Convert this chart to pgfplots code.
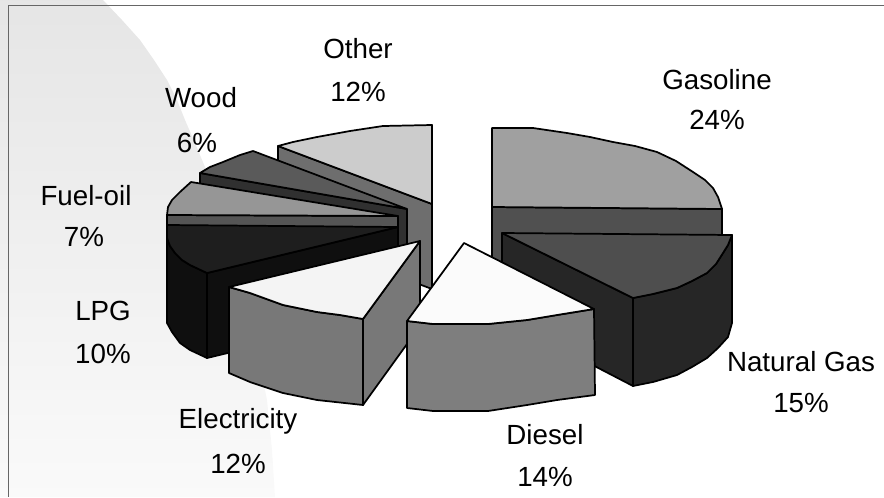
\documentclass[border=0pt]{standalone}
\usepackage{pgfplots}
\pgfplotsset{compat=1.18}
\usepackage{fontspec}
\setmainfont{Liberation Sans}

\definecolor{bgtop}{gray}{0.90}
\definecolor{bgbot}{gray}{0.98}
\definecolor{otherside}{RGB}{110,110,110}
\definecolor{othertop}{RGB}{204,204,204}
\definecolor{woodside}{RGB}{48,48,48}
\definecolor{woodtop}{RGB}{90,90,90}
\definecolor{fuelside}{RGB}{85,85,85}
\definecolor{fueltop}{RGB}{150,150,150}
\definecolor{lpgside}{RGB}{15,15,15}
\definecolor{lpgtop}{RGB}{30,30,30}
\definecolor{elecside}{RGB}{120,120,120}
\definecolor{electop}{RGB}{244,244,244}
\definecolor{gasside}{RGB}{80,80,80}
\definecolor{gastop}{RGB}{160,160,160}
\definecolor{ngside}{RGB}{38,38,38}
\definecolor{ngtop}{RGB}{78,78,78}
\definecolor{dieselside}{RGB}{126,126,126}
\definecolor{dieseltop}{RGB}{251,251,251}

% one slice face: closed polygon in pixel coordinates of the picture
\tikzset{
  face/.style={draw=black,line width=1.3pt,line join=round,fill=#1},
  lab/.style={anchor=base,font=\fontsize{20.8}{24}\selectfont,text=black},
}

\begin{document}
\begin{tikzpicture}
\begin{axis}[
  scale only axis,width=663pt,height=372.75pt,
  xmin=0,xmax=884,ymin=0,ymax=497,y dir=reverse,
  hide axis,clip=true,
]
% background swoosh
\addplot[draw=none,top color=bgtop,bottom color=bgbot] coordinates {
  (0,0) (103,0) (122,20) (140,40) (154,60) (167,80) (177,100) (185,120) (195,143) (205,167)
  (218,200) (230,235) (241,275) (250,320) (259,360) (267,400) (272,450) (275,497) (0,497)} --cycle;
% frame
\addplot[color=black!60,line width=1.1pt] coordinates {(884,5.5) (8.5,5.5) (8.5,497)};

% Other
\addplot[face=otherside] coordinates {(278,146) (432,204) (432,289) (278,231)} --cycle;
\addplot[face=othertop] coordinates {(432,204) (432,125) (383,126) (350,131) (317,137) (293,142) (278,146)} --cycle;
% Wood
\addplot[face=woodside] coordinates {(200,173) (407,209) (407,294) (200,258)} --cycle;
\addplot[face=woodtop] coordinates {(407,209) (253,151) (240,155) (223,162) (210,167) (200,173)} --cycle;
% Fuel-oil
\addplot[face=fuelside] coordinates {(167,215) (398,216) (398,301) (167,300)} --cycle;
\addplot[face=fueltop] coordinates {(398,216) (191,182) (180,192) (172,200) (168,207) (167,215)} --cycle;
% LPG
\addplot[face=lpgside] coordinates {(207,273) (398,227) (398,312) (207,358)} --cycle;
\addplot[face=lpgside] coordinates {(167,238) (170,246) (175,253) (182,260) (190,265) (207,273) (207,358) (190,350) (180,343) (172,332) (167,323)} --cycle;
\addplot[face=lpgtop] coordinates {(398,227) (167,225) (167,238) (170,246) (175,253) (182,260) (190,265) (207,273)} --cycle;
% Electricity
\addplot[face=elecside] coordinates {(363,319) (420,241) (420,326) (363,405)} --cycle;
\addplot[face=elecside] coordinates {(229,287) (250,293) (283,305) (317,312) (340,315) (363,319) (363,405) (317,400) (283,393) (250,382) (229,373)} --cycle;
\addplot[face=electop] coordinates {(420,241) (229,287) (250,293) (283,305) (317,312) (340,315) (363,319)} --cycle;
% Gasoline
\addplot[face=gasside] coordinates {(492,207) (722,209) (722,294) (492,292)} --cycle;
\addplot[face=gastop] coordinates {(492,207) (492,128) (533,128) (567,133) (590,137) (613,142) (635,146) (657,152) (676,161) (693,172) (705,180) (713,188) (718,197) (722,209)} --cycle;
% Natural Gas
\addplot[face=ngside] coordinates {(502,233) (633,298) (633,386) (502,318)} --cycle;
\addplot[face=ngside] coordinates {(732,235) (728,245) (723,253) (716,264) (707,273) (692,281) (677,288) (653,294) (633,298) (633,386) (653,382) (677,375) (692,367) (707,358) (718,348) (728,337) (732,323)} --cycle;
\addplot[face=ngtop] coordinates {(502,233) (732,235) (728,245) (723,253) (716,264) (707,273) (692,281) (677,288) (653,294) (633,298)} --cycle;
% Diesel
\addplot[face=dieselside] coordinates {(407,321) (433,324) (488,324) (527,320) (557,315) (594,309) (595,395) (557,400) (527,405) (488,411) (433,411) (407,408)} --cycle;
\addplot[face=dieseltop] coordinates {(464,243) (407,321) (433,324) (488,324) (527,320) (557,315) (594,309)} --cycle;

% labels
\node[lab] at (axis cs:358,58) {Other};
\node[lab] at (axis cs:358,101) {12\%};
\node[lab] at (axis cs:717,89) {Gasoline};
\node[lab] at (axis cs:717,129) {24\%};
\node[lab] at (axis cs:201,107) {Wood};
\node[lab] at (axis cs:197,152) {6\%};
\node[lab] at (axis cs:86,205) {Fuel-oil};
\node[lab] at (axis cs:84,246) {7\%};
\node[lab] at (axis cs:103,320) {LPG};
\node[lab] at (axis cs:103,363) {10\%};
\node[lab] at (axis cs:238,428) {Electricity};
\node[lab] at (axis cs:238,473) {12\%};
\node[lab] at (axis cs:545,444) {Diesel};
\node[lab] at (axis cs:545,486) {14\%};
\node[lab] at (axis cs:801,371) {Natural Gas};
\node[lab] at (axis cs:801,412) {15\%};
\end{axis}
\end{tikzpicture}
\end{document}
